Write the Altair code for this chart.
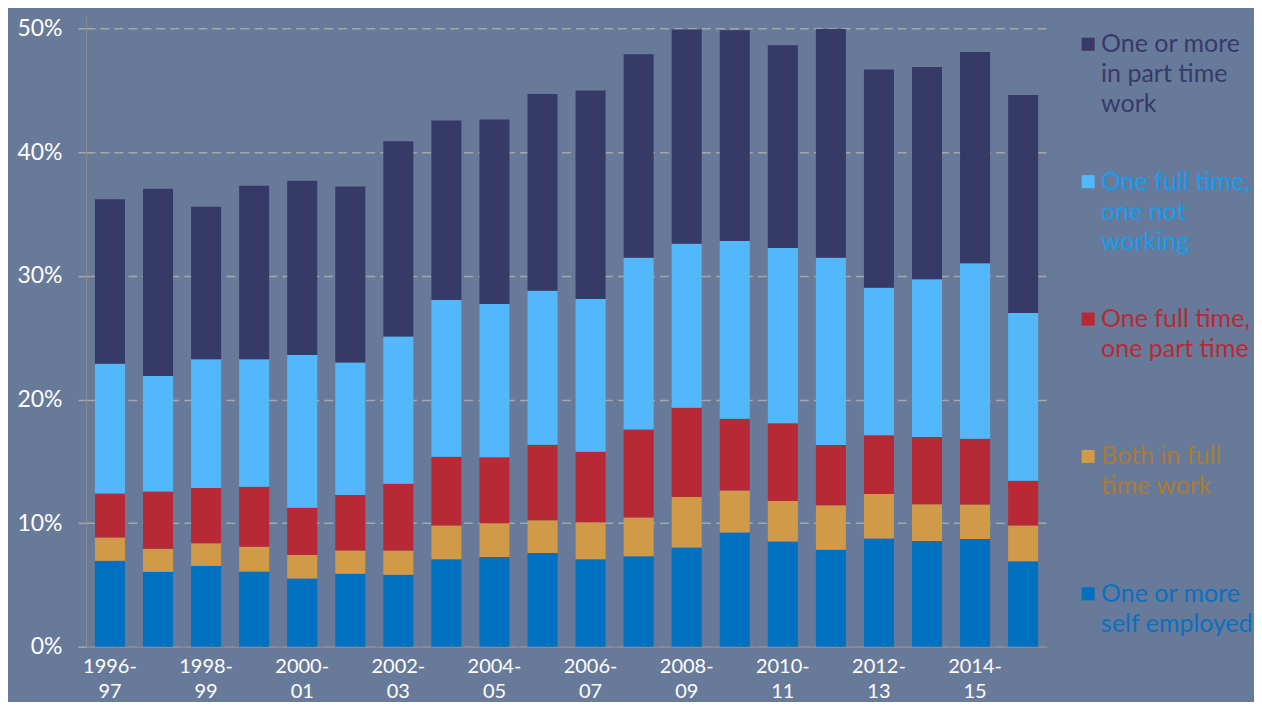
import altair as alt
import pandas as pd

years = ["1996-97", "1997-98", "1998-99", "1999-00", "2000-01", "2001-02", "2002-03",
         "2003-04", "2004-05", "2005-06", "2006-07", "2007-08", "2008-09", "2009-10",
         "2010-11", "2011-12", "2012-13", "2013-14", "2014-15", "2015-16"]
tick_years = years[::2]

series = ["One or more self employed", "Both in full time work",
          "One full time, one part time", "One full time, one not working",
          "One or more in part time work"]

self_employed = [6.95, 6.06, 6.54, 6.08, 5.52, 5.90, 5.82, 7.08, 7.27, 7.59,
                 7.08, 7.32, 8.02, 9.24, 8.51, 7.84, 8.75, 8.56, 8.72, 6.92]
both_full = [1.88, 1.86, 1.83, 2.02, 1.91, 1.88, 1.96, 2.72, 2.72, 2.64,
             2.99, 3.13, 4.10, 3.41, 3.28, 3.60, 3.61, 2.96, 2.78, 2.88]
ft_pt = [3.57, 4.63, 4.47, 4.85, 3.82, 4.50, 5.41, 5.57, 5.33, 6.11,
         5.71, 7.13, 7.21, 5.79, 6.28, 4.88, 4.74, 5.44, 5.33, 3.63]
ft_not = [10.50, 9.35, 10.42, 10.31, 12.35, 10.72, 11.91, 12.68, 12.41, 12.46,
          12.36, 13.89, 13.27, 14.38, 14.19, 15.15, 11.95, 12.77, 14.19, 13.57]
part_time = [13.30, 15.15, 12.34, 14.04, 14.10, 14.24, 15.80, 14.52, 14.92, 15.92,
             16.85, 16.46, 17.32, 17.05, 16.39, 18.50, 17.64, 17.17, 17.08, 17.64]

bar_colors = ["#0070C0", "#D09A48", "#B72A35", "#53B8FA", "#373A66"]

legend_order = [4, 3, 2, 1, 0]
legend_labels = ["One or more\nin part time\nwork",
                 "One full time,\none not\nworking",
                 "One full time,\none part time",
                 "Both in full\ntime work",
                 "One or more\nself employed"]
legend_text_colors = ["#363A68", "#139DF0", "#B72A35", "#A87A36", "#0A70C0"]

BG = "#687A99"
FONT = "Lato"

values_by_series = [self_employed, both_full, ft_pt, ft_not, part_time]
rows = []
for k, (name, vals) in enumerate(zip(series, values_by_series)):
    for yr, v in zip(years, vals):
        rows.append({"year": yr, "series": name, "value": v, "k": k})
df = pd.DataFrame(rows)

leg_df = pd.DataFrame({
    "slot": list(range(5)),
    "series": [series[i] for i in legend_order],
    "label": legend_labels,
    "tc": legend_text_colors,
})

bars = alt.Chart(df).mark_bar().encode(
    x=alt.X("year:N", sort=years, title=None,
            scale=alt.Scale(paddingInner=0.375, paddingOuter=0.1875),
            axis=alt.Axis(values=tick_years,
                          labelExpr="[slice(datum.label, 0, 5), slice(datum.label, 5)]",
                          labelAngle=0, labelFontSize=20, labelFont=FONT,
                          labelColor="white", labelPadding=10, labelLineHeight=25,
                          labelBaseline="top", labelOverlap=False,
                          ticks=False, tickSize=0, domainColor="#8C8C8C",
                          domainWidth=1.5, minExtent=51, maxExtent=51)),
    y=alt.Y("value:Q", stack="zero", title=None,
            scale=alt.Scale(domain=[0, 51], nice=False),
            axis=alt.Axis(values=[0, 10, 20, 30, 40, 50],
                          labelExpr="datum.value + '%'",
                          labelFontSize=23, labelFont=FONT, labelColor="white",
                          labelPadding=16, tickSize=8, tickColor="#A6A6A6",
                          tickWidth=1.5, grid=True, gridColor="#A6A6A6",
                          gridDash=[9, 5], gridWidth=1.5,
                          domainColor="#8C8C8C", domainWidth=1,
                          minExtent=70, maxExtent=70)),
    color=alt.Color("series:N", scale=alt.Scale(domain=series, range=bar_colors),
                    legend=None),
    order=alt.Order("k:Q", sort="ascending"),
).properties(width=962, height=631)

leg_y = alt.Y("slot:Q", scale=alt.Scale(domain=[0, 4], range=[28, 578]), axis=None)

leg_sq = alt.Chart(leg_df).mark_square(size=170, opacity=1, filled=True).encode(
    x=alt.value(41),
    y=leg_y,
    color=alt.Color("series:N", scale=alt.Scale(domain=series, range=bar_colors),
                    legend=None),
)
leg_tx = alt.Chart(leg_df).mark_text(align="left", baseline="top", lineBreak="\n",
                                     fontSize=25, lineHeight=30, font=FONT,
                                     dy=-12).encode(
    x=alt.value(54),
    y=leg_y,
    text="label:N",
    color=alt.Color("tc:N", scale=None),
)
legend = alt.layer(leg_sq, leg_tx).properties(width=206, height=631)

chart = alt.hconcat(bars, legend, spacing=0).configure(
    background=BG,
    padding={"left": 8, "top": 8, "right": 0, "bottom": 0},
).configure_view(stroke=None, fill=BG).configure_concat(spacing=0)

chart.save("out.html", embed_options={"renderer": "svg", "actions": False})
